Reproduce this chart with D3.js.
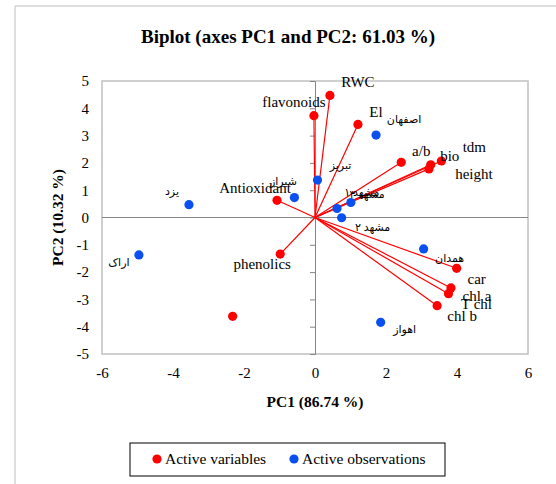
<!DOCTYPE html>
<head>
    <meta charset="utf-8">
    <style>
        body { margin: 0; background: #ffffff; }
        text { font-family: "Liberation Serif", "Times New Roman", serif; fill: #000; }
        .fa { font-family: "Liberation Serif", "DejaVu Sans", sans-serif; font-size: 11px; }
    </style>
    <script src="https://d3js.org/d3.v7.min.js"></script>
</head>
<body>
    <div id="chart"></div>
    <script>

        // variables (red), with arrows from the origin
        var varNames = ["RWC", "flavonoids", "El", "a/b", "bio", "tdm", "height", "Antioxidant", "phenolics", "car", "chl a", "T chl", "chl b"];
        var varPC1   = [0.42, -0.03, 1.21, 2.43, 3.26, 3.56, 3.21, -1.07, -0.98, 3.99, 3.83, 3.76, 3.44];
        var varPC2   = [4.47, 3.73, 3.41, 2.02, 1.93, 2.07, 1.78, 0.63, -1.34, -1.86, -2.58, -2.79, -3.23];

        // red point without arrow or label
        var loosePC1 = [-2.32];
        var loosePC2 = [-3.62];

        // observations (blue)
        var obsNames = ["اصفهان", "تبریز", "شیراز", "یزد", "اراک", "مشهد ۱", "مشهد ۳", "مشهد ۲", "همدان", "اهواز"];
        var obsPC1   = [1.72, 0.07, -0.58, -3.55, -4.96, 1.01, 0.62, 0.75, 3.06, 1.85];
        var obsPC2   = [3.02, 1.37, 0.73, 0.47, -1.37, 0.55, 0.33, -0.01, -1.15, -3.84];

        var xTicks = [-6, -4, -2, 0, 2, 4, 6];
        var yTicks = [-5, -4, -3, -2, -1, 0, 1, 2, 3, 4, 5];

        // label offsets (px) from each point
        var labelOff = {
            "RWC": [28, -14], "flavonoids": [-20, -14], "El": [18, -13], "a/b": [20, -12],
            "bio": [19, -9], "tdm": [33, -14], "height": [45, 5], "Antioxidant": [-22, -13],
            "phenolics": [-18, 10], "car": [20, 10], "chl a": [26, 8], "T chl": [28, 10], "chl b": [25, 10],
            "اصفهان": [28, -16], "تبریز": [23, -15], "شیراز": [-11, -16], "یزد": [-17, -14],
            "اراک": [-20, 7], "مشهد ۱": [11, -10], "مشهد ۳": [30, -14], "مشهد ۲": [31, 9],
            "همدان": [26, 9], "اهواز": [24, 7]
        };

        var W = 556, H = 484;
        var RED = "#ff0000", BLUE = "#0a4ff0";

        var svg = d3.select("#chart").append("svg")
            .attr("width", W)
            .attr("height", H);

        // chart frame
        svg.append("path")
            .attr("d", `M15,${H} L15,6 L${W},6`)
            .attr("fill", "none")
            .attr("stroke", "#bfbfbf");

        var x = d3.scaleLinear().domain([-6, 6]).range([102, 528]);
        var y = d3.scaleLinear().domain([-5, 5]).range([354, 81]);

        svg.append("text")
            .attr("x", 288).attr("y", 43)
            .attr("text-anchor", "middle")
            .attr("font-size", 19).attr("font-weight", "bold")
            .text("Biplot (axes PC1 and PC2: 61.03 %)");

        // plot area border
        svg.append("rect")
            .attr("x", x(-6)).attr("y", y(5))
            .attr("width", x(6) - x(-6)).attr("height", y(-5) - y(5))
            .attr("fill", "none")
            .attr("stroke", "#c0c0c0")
            .attr("stroke-width", 1.5);

        // tick labels along the plot edges
        var xl = svg.append("g")
            .attr("transform", `translate(0,${y(-5)})`)
            .call(d3.axisBottom(x).tickValues(xTicks).tickSize(0).tickPadding(13).tickFormat(d => String(d)));
        var yl = svg.append("g")
            .attr("transform", `translate(${x(-6) - 6},0)`)
            .call(d3.axisLeft(y).tickValues(yTicks).tickSize(0).tickPadding(7).tickFormat(d => String(d)));
        [xl, yl].forEach(g => {
            g.select(".domain").remove();
            g.selectAll("text").attr("font-size", 15).attr("font-family", "Liberation Serif").attr("fill", "#000");
        });

        // zero lines
        svg.append("line")
            .attr("x1", x(-6)).attr("x2", x(6))
            .attr("y1", y(0)).attr("y2", y(0))
            .attr("stroke", "#868686");
        var ya = svg.append("g")
            .attr("transform", `translate(${x(0)},0)`)
            .call(d3.axisLeft(y).tickValues(yTicks).tickSize(5).tickFormat(""));
        ya.select(".domain").attr("stroke", "#868686");
        ya.selectAll("line").attr("stroke", "#868686");

        svg.append("text")
            .attr("x", 315).attr("y", 407)
            .attr("text-anchor", "middle")
            .attr("font-size", 15.5).attr("font-weight", "bold")
            .text("PC1 (86.74 %)");
        svg.append("text")
            .attr("transform", `translate(63,${y(0)}) rotate(-90)`)
            .attr("text-anchor", "middle")
            .attr("font-size", 15.5).attr("font-weight", "bold")
            .text("PC2 (10.32 %)");

        var vars = varNames.map((n, i) => ({ name: n, a: varPC1[i], b: varPC2[i] }));
        var obs = obsNames.map((n, i) => ({ name: n, a: obsPC1[i], b: obsPC2[i] }));
        var loose = loosePC1.map((v, i) => ({ a: v, b: loosePC2[i] }));

        svg.append("g").selectAll("line")
            .data(vars).join("line")
            .attr("x1", x(0)).attr("y1", y(0))
            .attr("x2", d => x(d.a)).attr("y2", d => y(d.b))
            .attr("stroke", RED).attr("stroke-width", 1.2);

        svg.append("g").selectAll("circle")
            .data(obs).join("circle")
            .attr("cx", d => x(d.a)).attr("cy", d => y(d.b))
            .attr("r", 4.6).attr("fill", BLUE);

        svg.append("g").selectAll("circle")
            .data(vars.concat(loose)).join("circle")
            .attr("cx", d => x(d.a)).attr("cy", d => y(d.b))
            .attr("r", 4.6).attr("fill", RED);

        svg.append("g").selectAll("text")
            .data(vars).join("text")
            .attr("x", d => x(d.a) + labelOff[d.name][0])
            .attr("y", d => y(d.b) + labelOff[d.name][1])
            .attr("text-anchor", "middle").attr("dy", "0.35em")
            .attr("font-size", 15)
            .text(d => d.name);

        svg.append("g").selectAll("text")
            .data(obs).join("text")
            .attr("class", "fa")
            .attr("x", d => x(d.a) + labelOff[d.name][0])
            .attr("y", d => y(d.b) + labelOff[d.name][1])
            .attr("text-anchor", "middle").attr("dy", "0.35em")
            .text(d => d.name);

        // legend
        var lg = svg.append("g");
        lg.append("rect")
            .attr("x", 130).attr("y", 443)
            .attr("width", 315).attr("height", 33)
            .attr("fill", "#fff").attr("stroke", "#000");
        [["Active variables", RED, 157], ["Active observations", BLUE, 294]].forEach(e => {
            lg.append("circle").attr("cx", e[2]).attr("cy", 459).attr("r", 4.6).attr("fill", e[1]);
            lg.append("text").attr("x", e[2] + 8).attr("y", 464)
                .attr("font-size", 15.5).text(e[0]);
        });

    </script>
</body>
